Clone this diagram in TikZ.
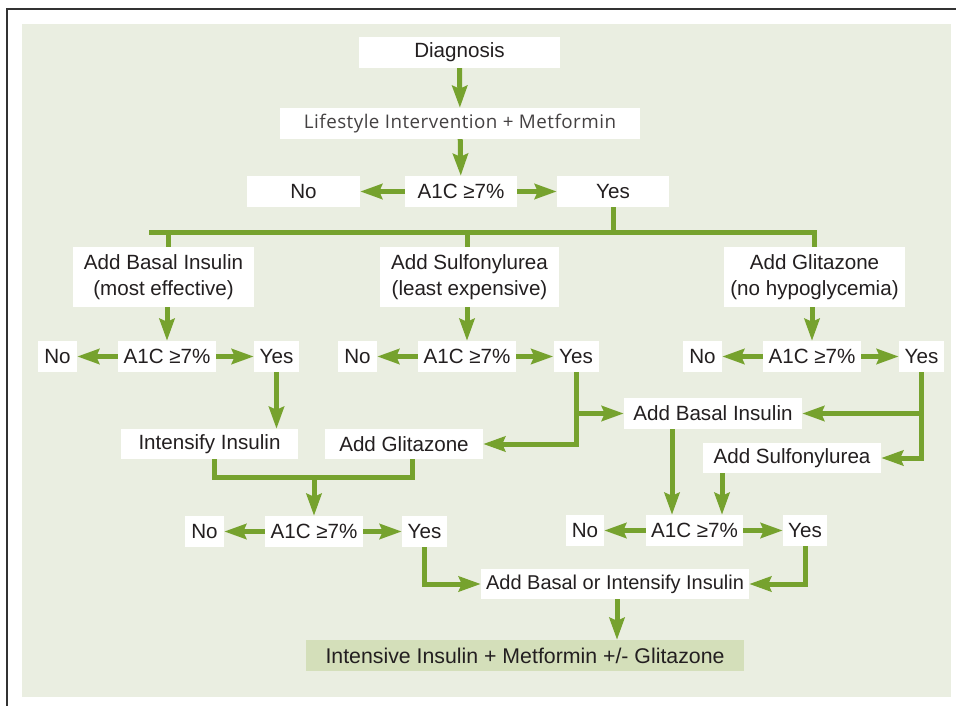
\documentclass[tikz,border=0pt]{standalone}
\usepackage{fontspec}
\setmainfont{Liberation Sans}
\newfontfamily\lightfont[LetterSpace=2.5]{Open Sans}
\usetikzlibrary{arrows.meta}
\definecolor{panel}{HTML}{EAEEE1}
\definecolor{grn}{HTML}{76A22E}
\definecolor{finalfill}{HTML}{D4DFBA}
\definecolor{txt}{HTML}{231F20}
\definecolor{frame}{HTML}{333333}
\begin{document}
\begin{tikzpicture}[x=1pt,y=-1pt,
  box/.style={fill=white, inner sep=0pt, minimum height=31pt, text=txt,
    font=\fontsize{20.6}{25.5}\selectfont, align=center},
  line/.style={draw=grn, line width=5pt, line join=miter},
  arr/.style={line, -{Stealth[length=22pt,width=15pt,inset=3pt]}},
]
\useasboundingbox (0,0) rectangle (956,706);
% frame and panel
\draw[frame, line width=2pt] (7,706) -- (7,9) -- (956,9);
\fill[panel] (22,24) rectangle (951,697);

% nodes
\node[box, minimum width=201pt] (diag) at (459.5,52.5) {Diagnosis};
\node[box, minimum width=360pt, font=\lightfont\fontsize{18.8}{22}\selectfont, text=txt!85] (life) at (460,123.5) {Lifestyle Intervention + Metformin};
\node[box, minimum width=112pt] (a1) at (461,191.5) {A1C ≥7\%};
\node[box, minimum width=113pt] (no1) at (303.5,191.5) {No};
\node[box, minimum width=112pt] (yes1) at (613,191.5) {Yes};

\node[box, minimum width=181pt, minimum height=60pt] (basal) at (163.5,277) {Add Basal Insulin\\(most effective)};
\node[box, minimum width=179pt, minimum height=60pt] (sulf) at (469.5,277) {Add Sulfonylurea\\(least expensive)};
\node[box, minimum width=181pt, minimum height=60pt] (glit) at (814.5,277) {Add Glitazone\\(no hypoglycemia)};

\node[box, minimum width=98pt] (a2L) at (167,356.5) {A1C ≥7\%};
\node[box, minimum width=39pt] (no2L) at (57.5,356.5) {No};
\node[box, minimum width=45pt] (yes2L) at (276.5,356.5) {Yes};
\node[box, minimum width=98pt] (a2M) at (467,356.5) {A1C ≥7\%};
\node[box, minimum width=39pt] (no2M) at (357.5,356.5) {No};
\node[box, minimum width=45pt] (yes2M) at (576,356.5) {Yes};
\node[box, minimum width=98pt] (a2R) at (812,356.5) {A1C ≥7\%};
\node[box, minimum width=39pt] (no2R) at (702.5,356.5) {No};
\node[box, minimum width=45pt] (yes2R) at (921.5,356.5) {Yes};

\node[box, minimum width=177pt, minimum height=30pt] (intens) at (209.5,444) {Intensify Insulin};
\node[box, minimum width=158pt, minimum height=30pt] (addglit) at (404,444) {Add Glitazone};
\node[box, minimum width=178pt] (addbasal) at (713,413.5) {Add Basal Insulin};
\node[box, minimum width=178pt, minimum height=30pt] (addsulf) at (792,458) {Add Sulfonylurea};

\node[box, minimum width=98pt] (a3L) at (314,531.5) {A1C ≥7\%};
\node[box, minimum width=39pt] (no3L) at (204.5,531.5) {No};
\node[box, minimum width=45pt] (yes3L) at (424.5,531.5) {Yes};
\node[box, minimum width=97pt] (a3R) at (694.5,530.5) {A1C ≥7\%};
\node[box, minimum width=38pt] (no3R) at (585,530.5) {No};
\node[box, minimum width=44pt] (yes3R) at (805,530.5) {Yes};

\node[box, minimum width=268pt, minimum height=30pt, font=\fontsize{20}{24}\selectfont] (basalint) at (615,584) {Add Basal or Intensify Insulin};
\node[box, minimum width=438pt, fill=finalfill, font=\fontsize{21.3}{25}\selectfont] (final) at (525,655.5) {Intensive Insulin + Metformin +/- Glitazone};

% connectors
\draw[arr] (diag) -- (life);
\draw[arr] (life) -- (a1);
\draw[arr] (a1) -- (no1);
\draw[arr] (a1) -- (yes1);

\coordinate (busL) at (149,232);
\coordinate (dropL) at (168,232);
\coordinate (dropM) at (467.5,232);
\draw[line] (yes1.south) -- (yes1.south |- busL);
\draw[line] (busL) -- (glit.north |- busL) -- (glit.north);
\draw[line] (dropL) -- (dropL |- basal.north);
\draw[line] (dropM) -- (dropM |- sulf.north);

\draw[arr] (basal.south -| a2L) -- (a2L);
\draw[arr] (sulf.south -| a2M) -- (a2M);
\draw[arr] (glit.south -| a2R) -- (a2R);
\draw[arr] (a2L) -- (no2L);
\draw[arr] (a2L) -- (yes2L);
\draw[arr] (a2M) -- (no2M);
\draw[arr] (a2M) -- (yes2M);
\draw[arr] (a2R) -- (no2R);
\draw[arr] (a2R) -- (yes2R);

\draw[arr] (yes2L.south) -- (yes2L.south |- intens.north);
\coordinate (jL) at (214,477);
\coordinate (jR) at (412,477);
\coordinate (jM) at (314,477);
\draw[line] (intens.south -| jL) -- (jL) -- (jR) -- (addglit.south -| jR);
\draw[arr] (jM) -- (a3L);

\draw[arr] (yes2M.south) |- (addglit.east);
\draw[arr] (yes2M.south |- addbasal) -- (addbasal.west);
\draw[arr] (yes2R.south) |- (addsulf.east);
\draw[arr] (yes2R.south |- addbasal) -- (addbasal.east);

\draw[arr] ([xshift=-41pt]addbasal.south) -- ([xshift=-41pt]addbasal.south |- a3R.north);
\draw[arr] ([xshift=-70pt]addsulf.south) -- ([xshift=-70pt]addsulf.south |- a3R.north);

\draw[arr] (a3L) -- (no3L);
\draw[arr] (a3L) -- (yes3L);
\draw[arr] (a3R) -- (no3R);
\draw[arr] (a3R) -- (yes3R);

\draw[arr] (yes3L.south) |- (basalint.west);
\draw[arr] (yes3R.south) |- (basalint.east);
\draw[arr] ([xshift=2pt]basalint.south) -- ([xshift=2pt]basalint.south |- final.north);
\end{tikzpicture}
\end{document}
